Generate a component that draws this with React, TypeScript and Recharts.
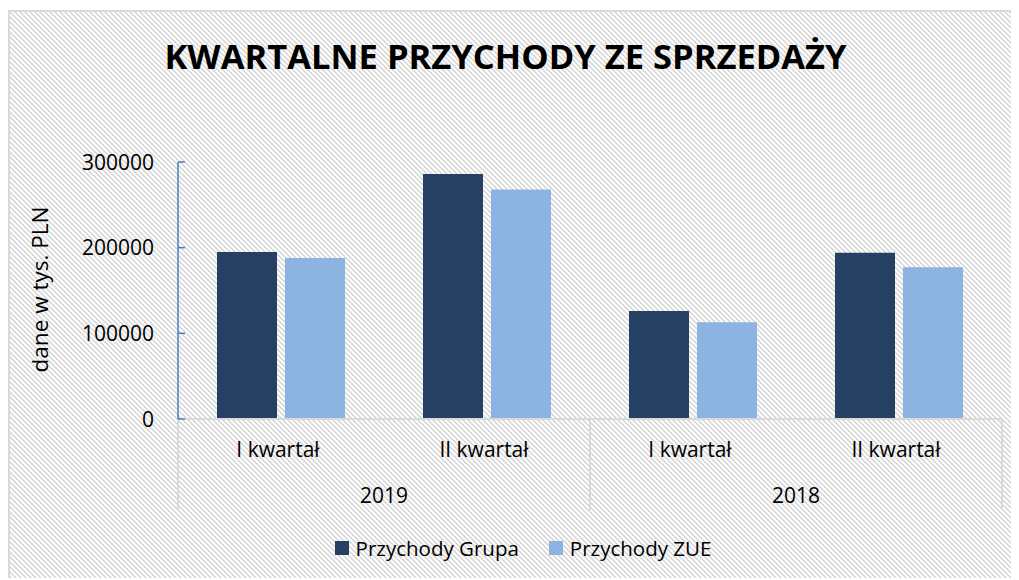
import React from "react";
import { BarChart, Bar, XAxis, YAxis, Legend } from "recharts";

const quarters = ["I kwartał", "II kwartał", "I kwartał", "II kwartał"];
const years = ["2019", "2019", "2018", "2018"];
const grupa = [195000, 286000, 126000, 194000];
const zue = [188000, 268000, 113000, 177000];
const yTicks = [0, 100000, 200000, 300000];
const seriesNames = ["Przychody Grupa", "Przychody ZUE"];
const colors = ["#264064", "#8DB3E2"];

const data = quarters.map((q, i) => ({ quarter: q, year: years[i], grupa: grupa[i], zue: zue[i] }));

const CHART_W = 1011;
const CHART_H = 570;
const MARGIN = { top: 152, right: 17, left: 0, bottom: 17 };
const YAXIS_W = 170;
const PLOT_W = CHART_W - MARGIN.left - MARGIN.right - YAXIS_W;
const FONT = "'Open Sans', sans-serif";

const HATCH =
  "url(\"data:image/svg+xml;utf8,<svg xmlns='http://www.w3.org/2000/svg' width='5' height='5'><path d='M0,0 L5,5 M-1,4 L1,6 M4,-1 L6,1' stroke='%23D2D2D2' stroke-width='1.4'/></svg>\")";

const YTick = (props: any) => {
  const { x, y, payload } = props;
  return (
    <g>
      <line x1={x + 24} x2={x + 31} y1={y} y2={y} stroke="#4A7EBB" strokeWidth={1.5} />
      <text x={x} y={y} dy="0.36em" textAnchor="end" fontSize={21} fontFamily={FONT} fill="#000">
        {payload.value}
      </text>
    </g>
  );
};

const XTick = (props: any) => {
  const { x, y, index } = props;
  const band = PLOT_W / quarters.length;
  const year = years[index];
  const isFirst = index === 0 || years[index - 1] !== year;
  const isLast = index === quarters.length - 1;
  const count = years.filter((v) => v === year).length;
  return (
    <g>
      <text x={x - 3} y={y + 38} textAnchor="middle" fontSize={21} fontFamily={FONT} fill="#000">
        {quarters[index]}
      </text>
      {isFirst && (
        <g>
          <line x1={x - band / 2} x2={x - band / 2} y1={y} y2={y + 91} stroke="#D9D9D9" strokeWidth={2} />
          <text x={x - band / 2 + (band * count) / 2} y={y + 84} textAnchor="middle" fontSize={21} fontFamily={FONT} fill="#000">
            {year}
          </text>
        </g>
      )}
      {isLast && <line x1={x + band / 2} x2={x + band / 2} y1={y} y2={y + 91} stroke="#D9D9D9" strokeWidth={2} />}
    </g>
  );
};

const LegendContent = () => (
  <div style={{ height: 30, display: "flex", justifyContent: "center", alignItems: "center", fontFamily: FONT, fontSize: 20.5, color: "#000", paddingLeft: 36 }}>
    {seriesNames.map((n, i) => (
      <div key={n} style={{ display: "flex", alignItems: "center", marginLeft: i ? 30 : 0 }}>
        <span style={{ display: "inline-block", width: 14, height: 14, background: colors[i], marginRight: 7 }} />
        <span>{n}</span>
      </div>
    ))}
  </div>
);

export default function App() {
  return (
    <div
      style={{
        position: "relative",
        top: 2,
        width: CHART_W,
        height: CHART_H,
        boxSizing: "border-box",
        borderTop: "2px solid #D9D9D9",
        borderLeft: "2px solid #D9D9D9",
        backgroundColor: "#ffffff",
        backgroundImage: HATCH,
        backgroundSize: "5px 5px",
        overflow: "hidden",
      }}
    >
      <div
        style={{
          position: "absolute",
          left: -10,
          top: 20,
          width: CHART_W,
          textAlign: "center",
          fontFamily: FONT,
          fontWeight: 700,
          fontSize: 34.5,
          color: "#000",
        }}
      >
        KWARTALNE PRZYCHODY ZE SPRZEDAŻY
      </div>
      <div style={{ position: "absolute", left: -2, top: -2 }}>
        <BarChart width={CHART_W} height={CHART_H} data={data} margin={MARGIN} barSize={60} barGap={8}>
          <XAxis
            dataKey="quarter"
            interval={0}
            tickLine={false}
            tickSize={0}
            tickMargin={0}
            height={114}
            axisLine={{ stroke: "#D9D9D9", strokeWidth: 2 }}
            tick={<XTick />}
          />
          <YAxis
            width={YAXIS_W}
            domain={[0, 300000]}
            ticks={yTicks}
            interval={0}
            tickLine={false}
            tickSize={0}
            tickMargin={24}
            axisLine={{ stroke: "#4A7EBB", strokeWidth: 1.5 }}
            tick={<YTick />}
            label={{
              content: (p: any) => {
                const vb = p.viewBox;
                const cx = vb.x + 32;
                const cy = vb.y + vb.height / 2 - 1;
                return (
                  <text x={cx} y={cy} transform={`rotate(-90 ${cx} ${cy})`} textAnchor="middle" dy="0.36em" fontSize={22.5} fontFamily={FONT} fill="#000">
                    dane w tys. PLN
                  </text>
                );
              },
            }}
          />
          <Legend verticalAlign="bottom" content={<LegendContent />} />
          <Bar dataKey="grupa" name={seriesNames[0]} fill={colors[0]} isAnimationActive={false} />
          <Bar dataKey="zue" name={seriesNames[1]} fill={colors[1]} isAnimationActive={false} />
        </BarChart>
      </div>
    </div>
  );
}
